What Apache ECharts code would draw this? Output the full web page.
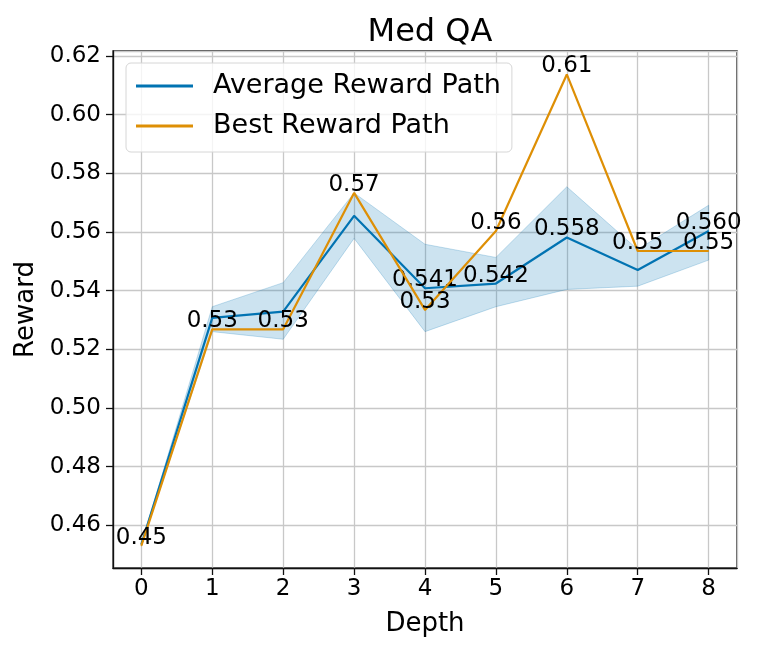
<!DOCTYPE html>
<html>
<head>
<meta charset="utf-8">
<script src="https://cdn.jsdelivr.net/npm/echarts@6/dist/echarts.min.js"></script>
<style>
    html, body { margin: 0; padding: 0; background: #fff; }
    #medqa { width: 761px; height: 653px; }
</style>
</head>
<body>
<div id="medqa"></div>
<script>
var depth = [0, 1, 2, 3, 4, 5, 6, 7, 8];
var avgReward = [0.4535, 0.5307, 0.5328, 0.5655, 0.5408, 0.5424, 0.5581, 0.5470, 0.5603];
var bestReward = [0.4530, 0.5268, 0.5268, 0.5733, 0.5334, 0.5603, 0.6137, 0.5535, 0.5535];
var bandLower = [0.4530, 0.5260, 0.5234, 0.5578, 0.5260, 0.5345, 0.5404, 0.5415, 0.5504];
var bandUpper = [0.4535, 0.5345, 0.5427, 0.5733, 0.5558, 0.5513, 0.5754, 0.5540, 0.5691];
// only some of the average points got a text label in the original
var avgLabelShown = [false, false, false, false, true, true, true, false, true];

function medQA() {
    var myChart = echarts.init(document.getElementById('medqa'));
    var font = 'DejaVu Sans';
    var blue = '#0173B2';
    var orange = '#DE8F05';

    function pairs(arr) {
        return depth.map(function (d, i) { return [d, arr[i]]; });
    }
    var bandData = depth.map(function (d, i) { return [d, bandLower[i], bandUpper[i]]; });

    var labelBase = {
        show: true,
        position: 'top',
        distance: 0,
        offset: [0, 4],
        color: '#000',
        fontFamily: font,
        fontSize: 23
    };

    var option = {
        animation: false,
        backgroundColor: '#fff',
        title: {
            text: 'Med QA',
            left: 425,
            top: 12,
            textAlign: 'center',
            textStyle: { fontFamily: font, fontSize: 32, fontWeight: 'normal', color: '#000' }
        },
        legend: {
            orient: 'vertical',
            left: 126,
            top: 63,
            padding: [9, 11, 12, 10],
            itemGap: 12,
            itemWidth: 57,
            itemHeight: 3,
            backgroundColor: 'rgba(255,255,255,0.8)',
            borderColor: '#d6d6d6',
            borderWidth: 1,
            borderRadius: 5,
            data: [
                { name: 'Average Reward Path', icon: 'rect' },
                { name: 'Best Reward Path', icon: 'rect' }
            ],
            textStyle: {
                fontFamily: font,
                fontSize: 27,
                lineHeight: 28,
                color: '#000',
                padding: [0, 0, 0, 15]
            }
        },
        grid: {
            left: 113,
            top: 51,
            width: 624,
            height: 517,
            show: true,
            borderColor: '#111',
            borderWidth: 1.3,
            backgroundColor: '#fff'
        },
        xAxis: {
            type: 'value',
            min: -0.4,
            max: 8.4,
            splitNumber: 9,
            minInterval: 1,
            maxInterval: 1,
            name: 'Depth',
            nameLocation: 'middle',
            nameGap: 43,
            nameTextStyle: { fontFamily: font, fontSize: 26, color: '#000' },
            axisLine: { onZero: false, lineStyle: { color: '#111', width: 1.3 } },
            axisTick: { length: 7, lineStyle: { color: '#111', width: 1.3 } },
            axisLabel: {
                margin: 10,
                color: '#000',
                fontFamily: font,
                fontSize: 23,
                showMinLabel: false,
                showMaxLabel: false,
                formatter: function (v) {
                    return Math.abs(v - Math.round(v)) < 1e-6 ? String(Math.round(v)) : '';
                }
            },
            splitLine: { show: true, lineStyle: { color: '#c8c8c8', width: 1.3 } }
        },
        yAxis: {
            type: 'value',
            min: 0.4454,
            max: 0.6217,
            splitNumber: 9,
            minInterval: 0.02,
            maxInterval: 0.02,
            name: 'Reward',
            nameLocation: 'middle',
            nameRotate: 90,
            nameGap: 73,
            nameTextStyle: { fontFamily: font, fontSize: 26, color: '#000' },
            axisLine: { show: true, onZero: false, lineStyle: { color: '#111', width: 1.3 } },
            axisTick: { show: true, length: 7, lineStyle: { color: '#111', width: 1.3 } },
            axisLabel: {
                margin: 12,
                color: '#000',
                fontFamily: font,
                fontSize: 23,
                showMinLabel: false,
                showMaxLabel: false,
                formatter: function (v) { return v.toFixed(2); }
            },
            splitLine: { show: true, lineStyle: { color: '#c8c8c8', width: 1.3 } }
        },
        series: [
            {
                // shaded band between lower and upper, one polygon
                name: 'band',
                type: 'custom',
                data: bandData,
                silent: true,
                clip: true,
                z: 1,
                renderItem: function (params, api) {
                    if (params.dataIndex !== 0) return null;
                    var pts = [];
                    for (var i = 0; i < bandData.length; i++) {
                        pts.push(api.coord([bandData[i][0], bandData[i][2]]));
                    }
                    for (var j = bandData.length - 1; j >= 0; j--) {
                        pts.push(api.coord([bandData[j][0], bandData[j][1]]));
                    }
                    return {
                        type: 'polygon',
                        shape: { points: pts },
                        style: {
                            fill: 'rgba(1,115,178,0.2)',
                            stroke: 'rgba(1,115,178,0.22)',
                            lineWidth: 1
                        }
                    };
                }
            },
            {
                name: 'Average Reward Path',
                type: 'line',
                data: pairs(avgReward),
                symbol: 'circle',
                symbolSize: 1,
                itemStyle: { color: blue },
                lineStyle: { color: blue, width: 2.2 },
                label: Object.assign({}, labelBase, {
                    formatter: function (p) {
                        return avgLabelShown[p.dataIndex] ? p.value[1].toFixed(3) : '';
                    }
                }),
                z: 3
            },
            {
                name: 'Best Reward Path',
                type: 'line',
                data: pairs(bestReward),
                symbol: 'circle',
                symbolSize: 1,
                itemStyle: { color: orange },
                lineStyle: { color: orange, width: 2.2 },
                label: Object.assign({}, labelBase, {
                    formatter: function (p) { return p.value[1].toFixed(2); }
                }),
                z: 4
            }
        ]
    };

    myChart.setOption(option);
    window.addEventListener('resize', function () {
        myChart.resize();
    });
}

medQA();
</script>
</body>
</html>
